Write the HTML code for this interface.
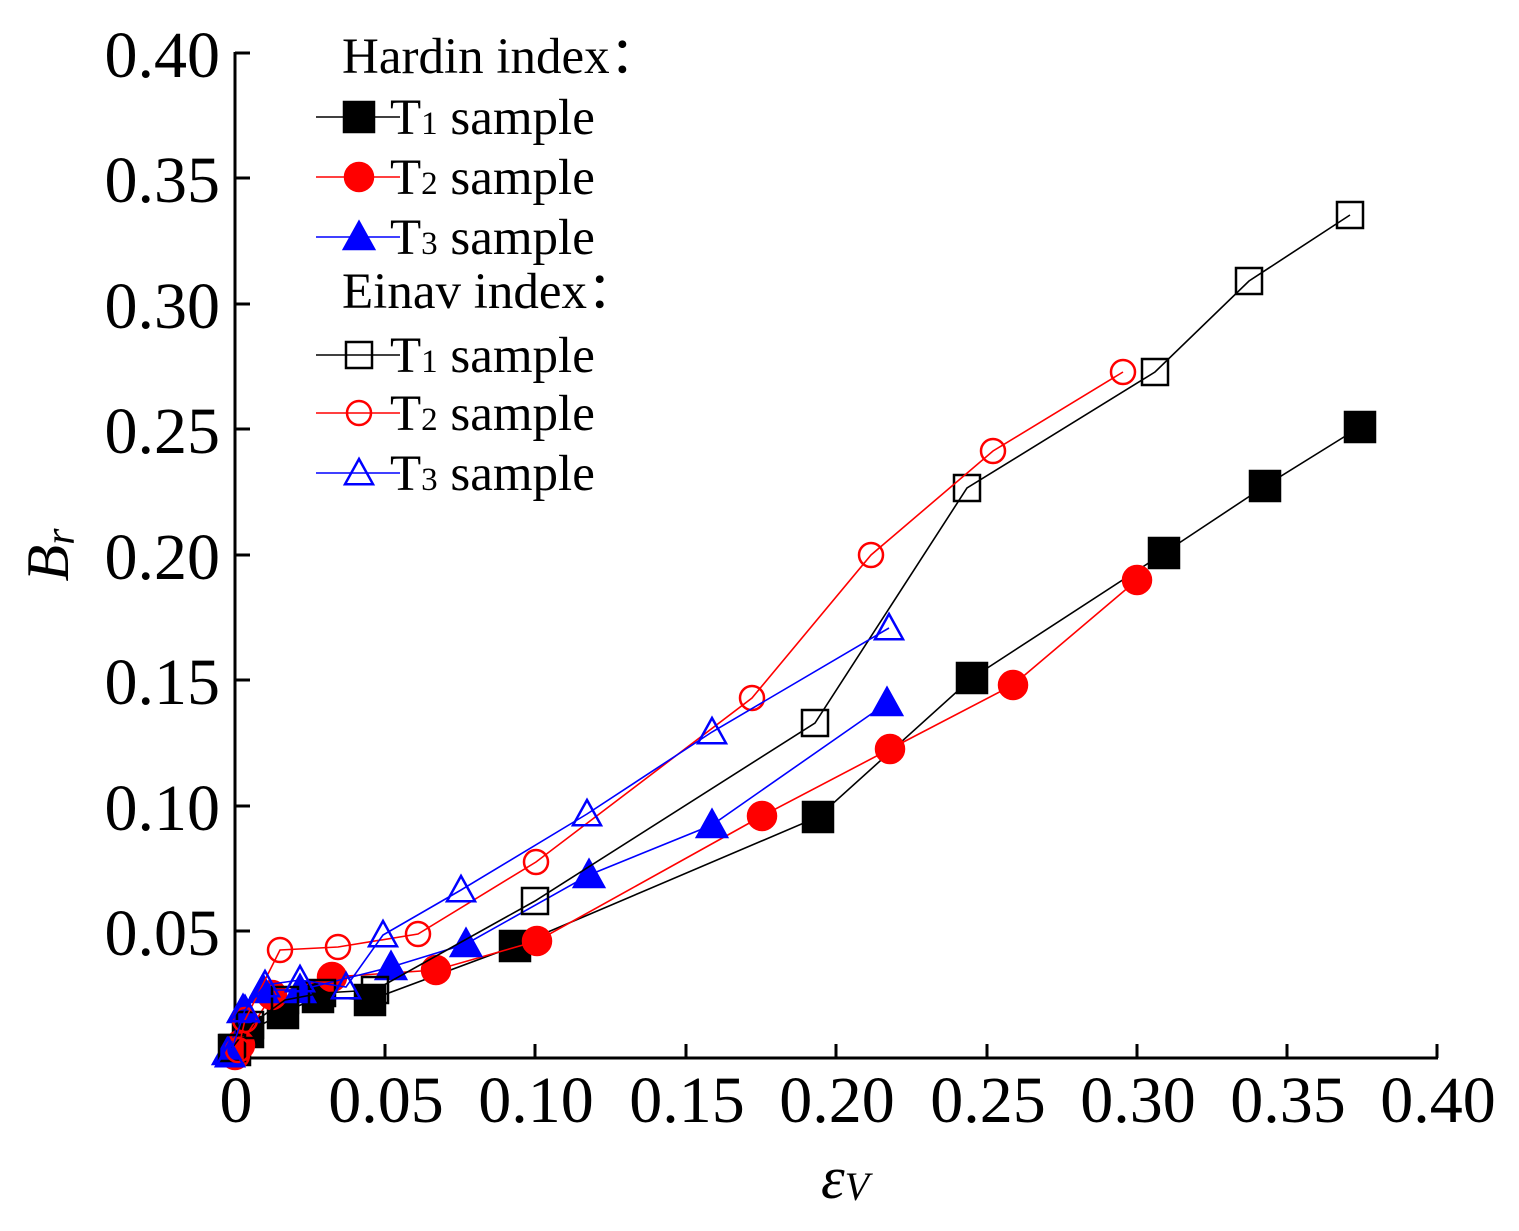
<!DOCTYPE html>
<html><head><meta charset="utf-8"><style>
html,body{margin:0;padding:0;background:#fff;}
svg{display:block;}
text{font-family:"Liberation Serif",serif;fill:#000;}
</style></head><body>
<svg id="s" width="1519" height="1231" viewBox="0 0 1519 1231" xmlns="http://www.w3.org/2000/svg">
<g stroke="#000" stroke-width="3" fill="none">
<line x1="235" y1="1058" x2="1438" y2="1058"/>
<line x1="235" y1="52" x2="235" y2="1058"/>
<line x1="385" y1="1058" x2="385" y2="1044"/>
<line x1="535" y1="1058" x2="535" y2="1044"/>
<line x1="686" y1="1058" x2="686" y2="1044"/>
<line x1="836" y1="1058" x2="836" y2="1044"/>
<line x1="987" y1="1058" x2="987" y2="1044"/>
<line x1="1137" y1="1058" x2="1137" y2="1044"/>
<line x1="1287" y1="1058" x2="1287" y2="1044"/>
<line x1="1437" y1="1058" x2="1437" y2="1044"/>
<line x1="235" y1="53" x2="250" y2="53"/>
<line x1="235" y1="178" x2="250" y2="178"/>
<line x1="235" y1="304" x2="250" y2="304"/>
<line x1="235" y1="429" x2="250" y2="429"/>
<line x1="235" y1="555" x2="250" y2="555"/>
<line x1="235" y1="680" x2="250" y2="680"/>
<line x1="235" y1="806" x2="250" y2="806"/>
<line x1="235" y1="931" x2="250" y2="931"/>
</g>
<g font-size="66" text-anchor="end">
<text x="220" y="77">0.40</text>
<text x="220" y="202">0.35</text>
<text x="220" y="328">0.30</text>
<text x="220" y="453">0.25</text>
<text x="220" y="579">0.20</text>
<text x="220" y="704">0.15</text>
<text x="220" y="830">0.10</text>
<text x="220" y="955">0.05</text>
</g>
<g font-size="66" text-anchor="middle">
<text x="236" y="1122">0</text>
<text x="386" y="1122">0.05</text>
<text x="536" y="1122">0.10</text>
<text x="687" y="1122">0.15</text>
<text x="837" y="1122">0.20</text>
<text x="988" y="1122">0.25</text>
<text x="1138" y="1122">0.30</text>
<text x="1288" y="1122">0.35</text>
<text x="1438" y="1122">0.40</text>
</g>
<text x="845" y="1198" font-size="60" font-style="italic" text-anchor="middle">ε<tspan font-size="40" dy="2">V</tspan></text>
<text transform="translate(68,555) rotate(-90)" font-size="60" font-style="italic" text-anchor="middle">B<tspan font-size="42" dy="6">r</tspan></text>
<g id="data"></g>
<g font-size="51">
<text x="342" y="73">Hardin index：</text>
<text x="342" y="308">Einav index：</text>
<g id="leg"></g>
</g>
</svg>
<script>
var NS="http://www.w3.org/2000/svg";
var g=document.getElementById('data'),lg=document.getElementById('leg');
function el(p,t,a){var e=document.createElementNS(NS,t);for(var k in a)e.setAttribute(k,a[k]);p.appendChild(e);return e;}
function mk(p,type,col,fill,x,y){
 var sw=2.5;
 if(type=='s'){var h=fill?15:13;el(p,'rect',{x:x-h,y:y-h,width:2*h,height:2*h,fill:fill?col:'none',stroke:col,'stroke-width':sw});}
 else if(type=='c'){el(p,'circle',{cx:x,cy:y,r:fill?14:12,fill:fill?col:'none',stroke:col,'stroke-width':sw});}
 else {var r=fill?15:14;el(p,'polygon',{points:(x)+','+(y-r)+' '+(x-r)+','+(y+r*0.8)+' '+(x+r)+','+(y+r*0.8),fill:fill?col:'none',stroke:col,'stroke-width':sw});}
}
var S=[
['s','#000',true,[[235,1050],[248,1032],[283,1013],[318,997],[370,1000],[515,946],[818,817],[972,678],[1164,553],[1265,486],[1360,427]]],
['c','#f00',true,[[235,1055],[240,1045],[272,995],[332,977],[436,970],[537,941],[762,816],[890,749],[1013,685],[1137,580]]],
['t','#00f',true,[[228,1052],[243,1010],[263,990],[300,990],[391,967],[466,944],[589,875],[712,825],[887,703]]],
['s','#000',false,[[232,1048],[250,1025],[285,1000],[322,993],[375,990],[535,901],[815,723],[967,488],[1155,372],[1249,281],[1350,215]]],
['c','#f00',false,[[238,1050],[245,1020],[280,950],[338,947],[418,934],[536,862],[752,698],[871,555],[993,451],[1123,372]]],
['t','#00f',false,[[230,1055],[245,1010],[265,985],[300,980],[346,987],[383,935],[461,890],[587,814],[712,732],[889,628]]]
];
S.forEach(function(s){
 el(g,'polyline',{points:s[3].map(function(p){return p.join(',')}).join(' '),fill:'none',stroke:s[1],'stroke-width':1.6});
 s[3].forEach(function(p){mk(g,s[0],s[1],s[2],p[0],p[1]);});
});
var LY=[117,177,237,355,413,473],sub=['1','2','3','1','2','3'];
S.forEach(function(s,i){
 var y=LY[i];
 el(lg,'line',{x1:316,y1:y,x2:400,y2:y,stroke:s[1],'stroke-width':1.6});
 mk(lg,s[0],s[1],s[2],359,y);
 var t=el(lg,'text',{x:390,y:y+17});
 t.innerHTML='T<tspan font-size="33">'+sub[i]+'</tspan> sample';
});
</script>
</body></html>
